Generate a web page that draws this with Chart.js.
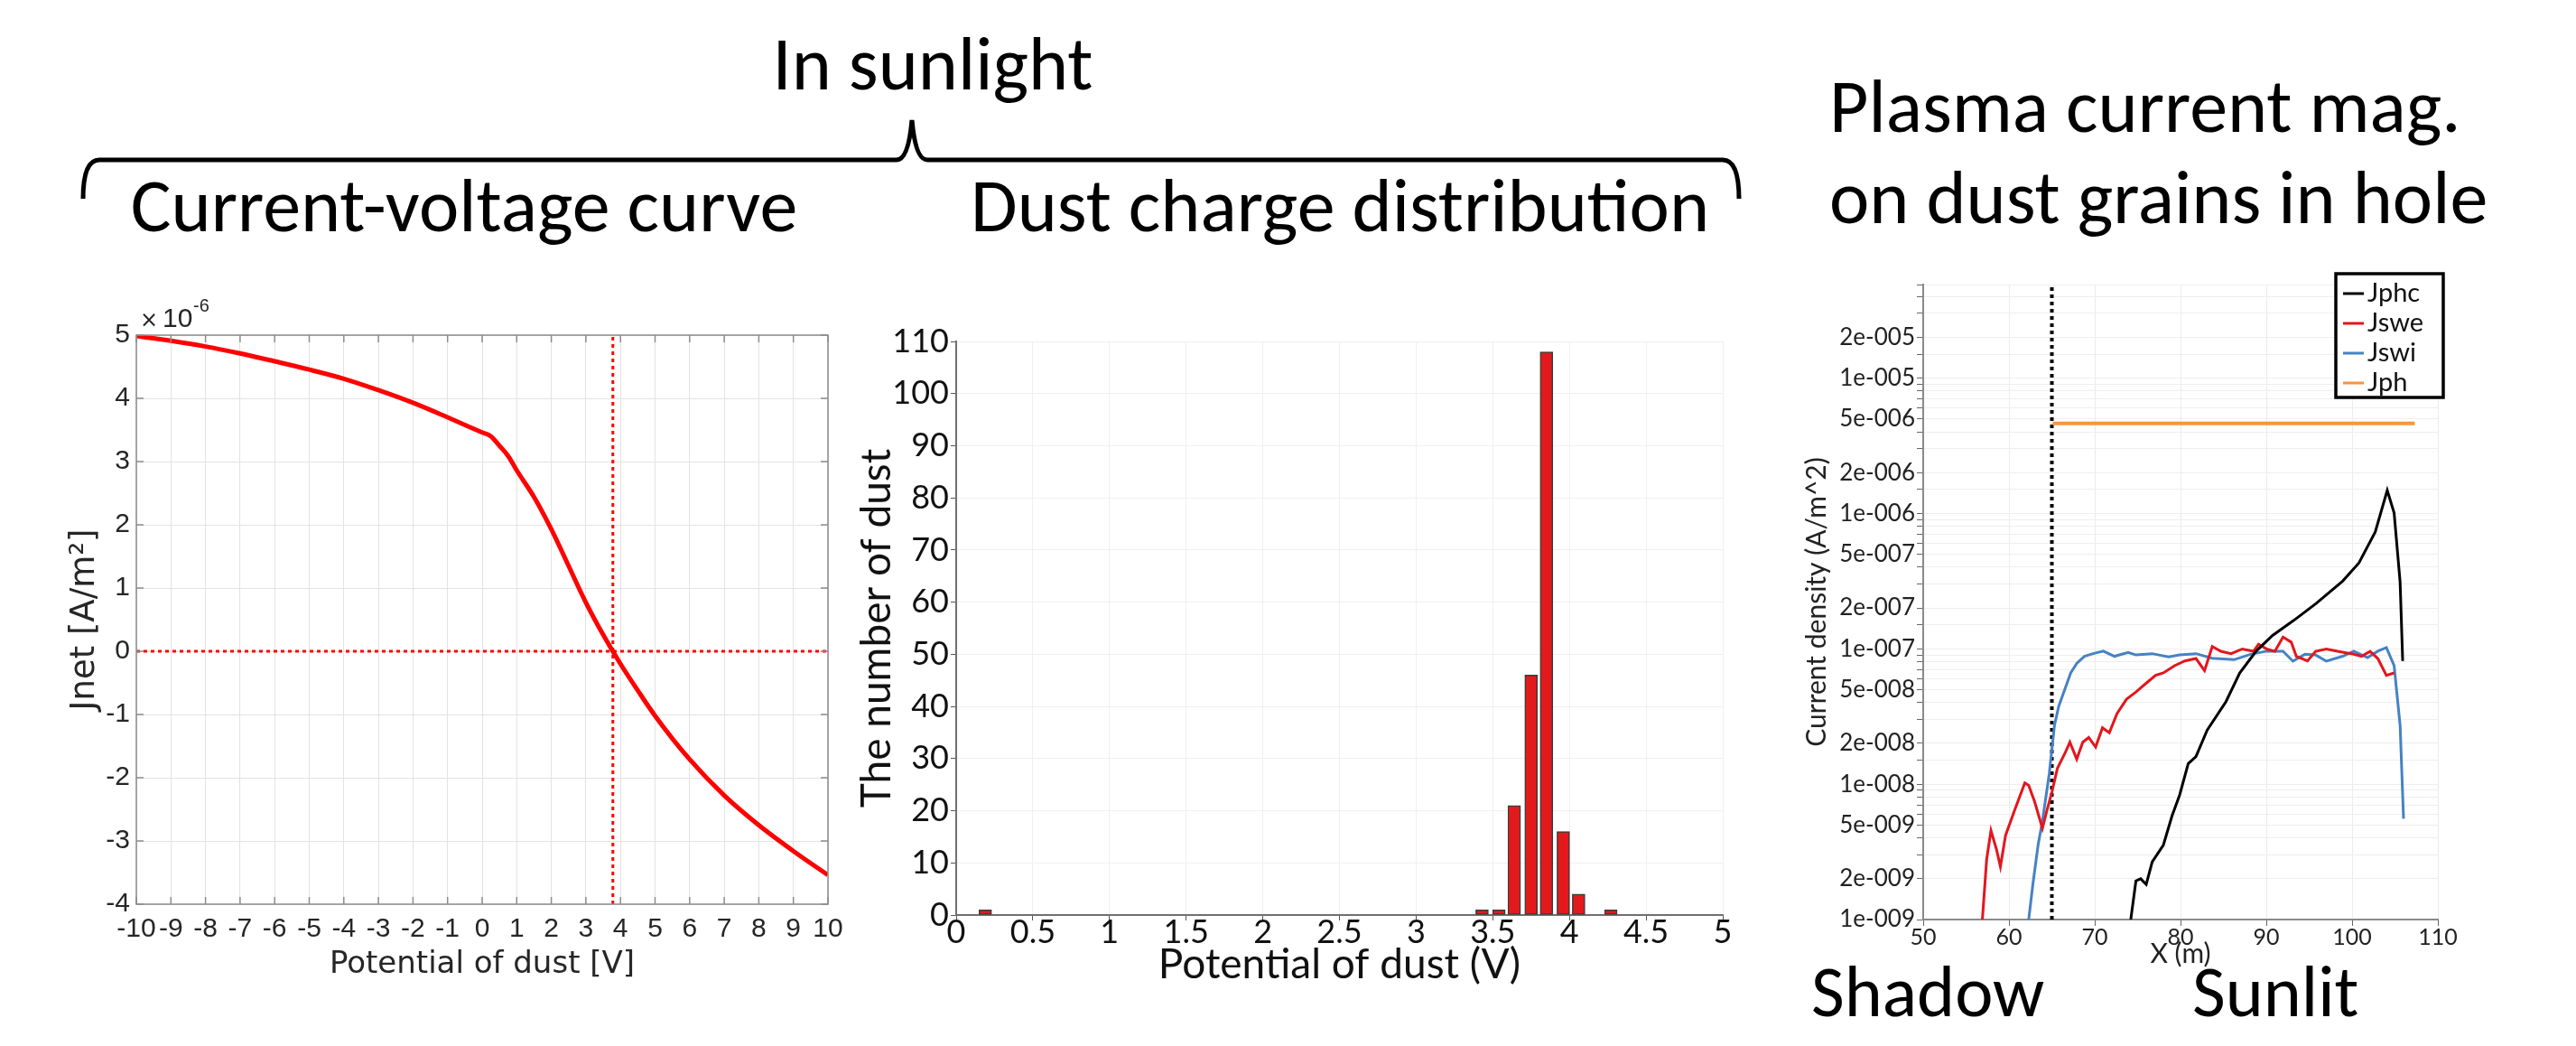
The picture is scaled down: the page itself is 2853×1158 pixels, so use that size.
<!DOCTYPE html>
<html>
<head>
<meta charset="utf-8">
<script src="https://cdn.jsdelivr.net/npm/chart.js@4.4.0/dist/chart.umd.min.js"></script>
<style>
  body { margin: 0; width: 2853px; height: 1158px; background: #fff; position: relative; overflow: hidden; }
  .t { position: absolute; font-family: Carlito, Lato, sans-serif; font-size: 84px; line-height: 1; white-space: nowrap; color: #000; }
  .c { position: absolute; }
</style>
</head>
<body>
<div class="t" style="left:1033px;top:29px;transform:translateX(-50%)">In sunlight</div>
<div class="t" style="left:514px;top:186px;transform:translateX(-50%)">Current-voltage curve</div>
<div class="t" style="left:1484px;top:186px;transform:translateX(-50%)">Dust charge distribution</div>
<div class="t" style="left:2026px;top:76px">Plasma current mag.</div>
<div class="t" style="left:2026px;top:177px">on dust grains in hole</div>
<div class="t" style="left:2006px;top:1058px;font-size:80px">Shadow</div>
<div class="t" style="left:2428px;top:1058px;font-size:80px">Sunlit</div>

<svg class="c" style="left:0;top:0" width="2853" height="300">
  <path d="M92,220 Q92,177 110,177 L993,177 Q1006,177 1010,133 Q1014,177 1027,177 L1908,177 Q1926,177 1926,220"
        fill="none" stroke="#000" stroke-width="5"/>
</svg>

<canvas class="c" id="c1" width="960" height="830" style="left:0;top:300px"></canvas>
<canvas class="c" id="c2" width="1060" height="830" style="left:900px;top:300px"></canvas>
<canvas class="c" id="c3" width="893" height="850" style="left:1960px;top:280px"></canvas>

<script>
// ---- panel 1: current-voltage curve (Jnet in units of 1e-6 A/m^2)
const potentialV = [-10, -9, -8, -7, -6, -5, -4, -3, -2, -1, 0, 0.25, 0.5, 0.75, 1, 1.5, 2, 2.5, 3, 3.5, 4, 4.5, 5, 6, 7, 8, 9, 10]
const jnetMicro  = [4.985, 4.91, 4.82, 4.71, 4.585, 4.455, 4.31, 4.13, 3.93, 3.70, 3.46, 3.40, 3.25, 3.09, 2.86, 2.44, 1.93, 1.35, 0.77, 0.26, -0.20, -0.62, -1.02, -1.71, -2.28, -2.75, -3.16, -3.54]
const floatingPotential = 3.78

// ---- panel 2: dust charge histogram
const binCenters = [0.19, 3.43, 3.54, 3.64, 3.75, 3.85, 3.96, 4.06, 4.27]
const dustCounts = [1, 1, 1, 21, 46, 108, 16, 4, 1]

// ---- panel 3: plasma current magnitudes vs X (m)
const xPhc = [74.2, 74.8, 75.35, 76.0, 76.7, 78.0, 79.0, 79.9, 80.9, 81.8, 83.1, 85.3, 86.9, 88.8, 90.7, 93.2, 95.8, 98.9, 100.8, 102.7, 104.1, 104.9, 105.6, 105.9]
const jphc = [1e-9, 1.93e-9, 2.0e-9, 1.82e-9, 2.67e-9, 3.55e-9, 5.8e-9, 8.34e-9, 1.42e-8, 1.60e-8, 2.5e-8, 4.07e-8, 6.63e-8, 9.57e-8, 1.25e-7, 1.62e-7, 2.16e-7, 3.16e-7, 4.31e-7, 7.3e-7, 1.48e-6, 1.01e-6, 3.11e-7, 8.13e-8]

const xSwe = [56.9, 57.4, 57.9, 58.55, 59.0, 59.6, 60.6, 61.85, 62.3, 63.0, 63.9, 64.4, 65.0, 65.65, 66.6, 67.1, 67.9, 68.6, 69.3, 70.1, 70.9, 71.7, 72.6, 73.7, 74.8, 76.1, 77.1, 78.0, 79.3, 80.5, 81.8, 82.8, 83.7, 84.7, 85.9, 87.2, 88.5, 89.1, 90.05, 91.0, 91.95, 92.9, 93.5, 94.8, 95.75, 97.0, 98.3, 99.9, 101.1, 102.1, 103.0, 104.0, 104.9]
const jswe = [1e-9, 2.79e-9, 4.54e-9, 3.28e-9, 2.46e-9, 4.18e-9, 6.28e-9, 1.02e-8, 9.8e-9, 7.4e-9, 4.72e-9, 6.3e-9, 8.7e-9, 1.31e-8, 1.73e-8, 2.04e-8, 1.53e-8, 2.04e-8, 2.21e-8, 1.88e-8, 2.61e-8, 2.4e-8, 3.32e-8, 4.24e-8, 4.79e-8, 5.64e-8, 6.37e-8, 6.63e-8, 7.5e-8, 8.13e-8, 8.47e-8, 6.9e-8, 1.04e-7, 9.57e-8, 9.2e-8, 9.96e-8, 9.57e-8, 1.08e-7, 9.96e-8, 9.57e-8, 1.22e-7, 1.12e-7, 8.8e-8, 8.13e-8, 9.57e-8, 9.96e-8, 9.57e-8, 9.2e-8, 8.8e-8, 9.57e-8, 8.47e-8, 6.37e-8, 6.63e-8]

const xSwi = [62.3, 62.8, 63.4, 63.9, 64.7, 65.3, 65.8, 66.6, 67.2, 67.9, 68.8, 69.8, 71.0, 72.3, 73.9, 74.8, 76.7, 78.6, 79.9, 81.8, 83.7, 86.25, 88.15, 90.05, 91.95, 93.1, 94.5, 95.75, 97.0, 98.9, 100.2, 101.8, 103.0, 104.0, 104.9, 105.6, 106.0]
const jswi = [1e-9, 1.85e-9, 3.56e-9, 5.33e-9, 1.2e-8, 2.71e-8, 3.76e-8, 5.2e-8, 6.63e-8, 7.8e-8, 8.8e-8, 9.2e-8, 9.6e-8, 8.8e-8, 9.4e-8, 9.0e-8, 9.2e-8, 8.7e-8, 9.0e-8, 9.2e-8, 8.5e-8, 8.3e-8, 9.1e-8, 9.6e-8, 9.6e-8, 8.1e-8, 9.1e-8, 9.0e-8, 8.1e-8, 8.8e-8, 9.6e-8, 8.6e-8, 9.6e-8, 1.02e-7, 7.5e-8, 2.71e-8, 5.56e-9]

const xPh = [65.1, 107.3]
const jph = [4.62e-6, 4.62e-6]
const shadowEdgeX = 65.0
const yMin3 = 1e-9
const yMax3 = 4.9e-5

const pts = (xs, ys) => xs.map((x, i) => ({x: x, y: ys[i]}))

// MATLAB style box with inward ticks and the x10^-6 exponent
const matlabBox = {
    id: 'matlabBox',
    afterDraw(chart) {
        const {ctx, chartArea: a, scales: {x, y}} = chart
        ctx.save()
        ctx.strokeStyle = '#8c8c8c'
        ctx.lineWidth = 1.5
        ctx.strokeRect(a.left, a.top, a.right - a.left, a.bottom - a.top)
        ctx.beginPath()
        x.ticks.forEach(t => {
            const p = x.getPixelForValue(t.value)
            ctx.moveTo(p, a.bottom); ctx.lineTo(p, a.bottom - 8)
            ctx.moveTo(p, a.top); ctx.lineTo(p, a.top + 8)
        })
        y.ticks.forEach(t => {
            const p = y.getPixelForValue(t.value)
            ctx.moveTo(a.left, p); ctx.lineTo(a.left + 8, p)
            ctx.moveTo(a.right, p); ctx.lineTo(a.right - 8, p)
        })
        ctx.stroke()
        ctx.fillStyle = '#262626'
        ctx.textBaseline = 'alphabetic'
        ctx.font = '24px "DejaVu Sans"'
        ctx.fillText('\u00d7', a.left + 4, a.top - 9)
        ctx.font = '30px "Liberation Sans"'
        ctx.fillText('10', a.left + 29, a.top - 9)
        ctx.font = '20px "Liberation Sans"'
        ctx.fillText('-6', a.left + 63, a.top - 26)
        ctx.restore()
    }
}

new Chart(document.getElementById('c1'), {
    type: 'line',
    data: {
        datasets: [
            {data: pts(potentialV, jnetMicro), borderColor: '#ff0000', borderWidth: 5, pointRadius: 0, cubicInterpolationMode: 'monotone'},
            {data: [{x: -10, y: 0}, {x: 10, y: 0}], borderColor: '#ff0000', borderWidth: 3, borderDash: [4, 4], pointRadius: 0},
            {data: [{x: floatingPotential, y: -4}, {x: floatingPotential, y: 5}], borderColor: '#ff0000', borderWidth: 3, borderDash: [4, 4], pointRadius: 0},
        ]
    },
    options: {
        responsive: false,
        animation: false,
        layout: {padding: {top: 71, right: 43, left: 0, bottom: 0}},
        plugins: {legend: {display: false}, tooltip: {enabled: false}},
        scales: {
            x: {
                type: 'linear', min: -10, max: 10,
                ticks: {stepSize: 1, padding: 10, color: '#262626', font: {family: 'Liberation Sans', size: 30}, callback: v => String(v), maxRotation: 0, autoSkip: false},
                grid: {color: '#e3e3e3', drawTicks: false},
                border: {display: false},
                title: {display: true, text: 'Potential of dust [V]', color: '#262626', font: {family: 'DejaVu Sans', size: 34}, padding: {top: 0, bottom: 41}},
                afterFit(s) { s.height = 129 }
            },
            y: {
                type: 'linear', min: -4, max: 5,
                ticks: {stepSize: 1, padding: 7, color: '#262626', font: {family: 'Liberation Sans', size: 30}, callback: v => String(v)},
                grid: {color: '#e3e3e3', drawTicks: false},
                border: {display: false},
                title: {display: true, text: 'Jnet [A/m\u00b2]', color: '#262626', font: {family: 'DejaVu Sans', size: 37}, padding: {top: 72, bottom: 0}},
                afterFit(s) { s.width = 151 }
            }
        }
    },
    plugins: [matlabBox]
})

const pvFont = 'Lato'

new Chart(document.getElementById('c2'), {
    type: 'bar',
    data: {
        datasets: [{
            data: pts(binCenters, dustCounts),
            backgroundColor: '#e31a1c',
            borderColor: '#3a3a3a',
            borderWidth: 1.5,
            borderSkipped: false,
            barThickness: 14
        }]
    },
    options: {
        responsive: false,
        animation: false,
        layout: {padding: {top: 78, right: 52, left: 0, bottom: 0}},
        plugins: {legend: {display: false}, tooltip: {enabled: false}},
        scales: {
            x: {
                type: 'linear', min: 0, max: 5, offset: false,
                ticks: {stepSize: 0.5, padding: -5, color: '#111', font: {family: pvFont, size: 36, lineHeight: 1}, callback: v => String(v), maxRotation: 0, autoSkip: false},
                grid: {color: '#f0f0f0', offset: false, tickLength: 6, tickColor: '#555'},
                border: {color: '#707070', width: 2},
                title: {display: true, text: 'Potential of dust (V)', color: '#111', font: {family: pvFont, size: 46}, padding: {top: 0, bottom: 34}},
                afterFit(s) { s.height = 117 }
            },
            y: {
                type: 'linear', min: 0, max: 110,
                ticks: {stepSize: 10, padding: 2, color: '#111', font: {family: pvFont, size: 36}, autoSkip: false},
                grid: {color: '#f0f0f0', tickLength: 6, tickColor: '#555'},
                border: {color: '#707070', width: 2},
                title: {display: true, text: 'The number of dust', color: '#111', font: {family: pvFont, size: 46}, padding: {top: 44, bottom: 0}},
                afterFit(s) { s.width = 159 }
            }
        }
    }
})

// legend box drawn inside the plot, ParaView style
const legendBox = {
    id: 'legendBox',
    afterDraw(chart) {
        const ctx = chart.ctx
        const items = chart.data.datasets.filter(d => d.label)
        const x0 = 627, y0 = 23, w = 119, h = 137
        ctx.save()
        ctx.fillStyle = '#fff'
        ctx.fillRect(x0, y0, w, h)
        ctx.lineWidth = 3.5
        ctx.strokeStyle = '#000'
        ctx.strokeRect(x0, y0, w, h)
        ctx.font = '29px ' + pvFont
        ctx.textBaseline = 'middle'
        items.forEach((d, i) => {
            const yy = y0 + 22 + i * 33
            ctx.strokeStyle = d.borderColor
            ctx.lineWidth = 3
            ctx.beginPath()
            ctx.moveTo(x0 + 8, yy)
            ctx.lineTo(x0 + 31, yy)
            ctx.stroke()
            ctx.fillStyle = '#111'
            ctx.fillText(d.label, x0 + 35, yy)
        })
        ctx.restore()
    }
}

function logLabel(v) {
    const e = Math.floor(Math.log10(v) + 1e-9)
    const m = Math.round(v / Math.pow(10, e) * 100) / 100
    if (m !== 1 && m !== 2 && m !== 5) return ''
    return m + 'e-' + String(-e).padStart(3, '0')
}

new Chart(document.getElementById('c3'), {
    type: 'line',
    data: {
        datasets: [
            {label: 'Jphc', data: pts(xPhc, jphc), borderColor: '#000000', borderWidth: 3, pointRadius: 0},
            {label: 'Jswe', data: pts(xSwe, jswe), borderColor: '#e3161d', borderWidth: 3, pointRadius: 0},
            {label: 'Jswi', data: pts(xSwi, jswi), borderColor: '#4682c4', borderWidth: 3, pointRadius: 0},
            {label: 'Jph', data: pts(xPh, jph), borderColor: '#f7953f', borderWidth: 4, pointRadius: 0},
            {data: [{x: shadowEdgeX, y: yMin3}, {x: shadowEdgeX, y: yMax3}], borderColor: '#000', borderWidth: 4, borderDash: [4, 4], pointRadius: 0},
        ]
    },
    options: {
        responsive: false,
        animation: false,
        layout: {padding: {top: 35, right: 153, left: 0, bottom: 0}},
        plugins: {legend: {display: false}, tooltip: {enabled: false}},
        scales: {
            x: {
                type: 'linear', min: 50, max: 110,
                ticks: {stepSize: 10, padding: -2, color: '#222', font: {family: pvFont, size: 25}, maxRotation: 0, autoSkip: false},
                grid: {color: '#ececec', tickLength: 7, tickColor: '#666'},
                border: {color: '#8a8a8a', width: 2},
                title: {display: true, text: 'X (m)', color: '#222', font: {family: pvFont, size: 30}, padding: {top: 0, bottom: 56}},
                afterFit(s) { s.height = 112 }
            },
            y: {
                type: 'logarithmic', min: yMin3, max: yMax3,
                ticks: {padding: 2, color: '#222', font: {family: pvFont, size: 26}, autoSkip: false, callback: v => logLabel(v)},
                grid: {color: '#eeeeee', tickLength: 7, tickColor: '#666'},
                border: {color: '#8a8a8a', width: 2},
                title: {display: true, text: 'Current density (A/m^2)', color: '#222', font: {family: pvFont, size: 30}, padding: {top: 34, bottom: 0}},
                afterFit(s) { s.width = 170 }
            }
        }
    },
    plugins: [legendBox]
})
</script>
</body>
</html>
